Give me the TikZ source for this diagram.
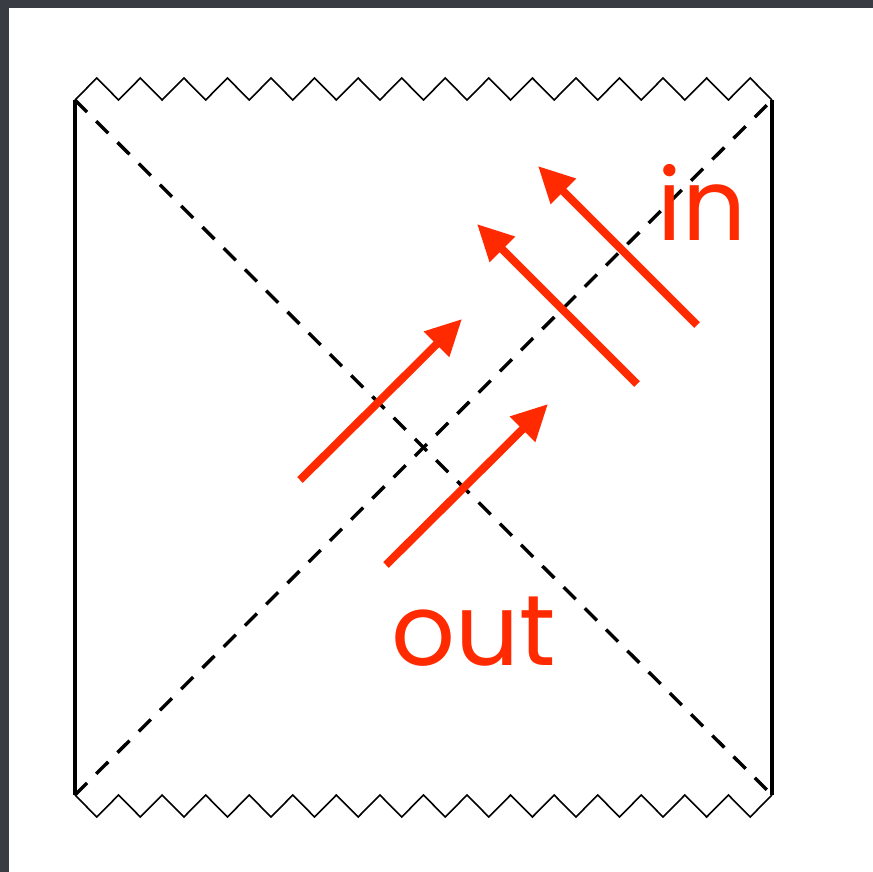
\documentclass[tikz,border=0pt]{standalone}
\usepackage{fontspec}
\newfontfamily\labelfont{Poppins}
\usetikzlibrary{arrows.meta}
\definecolor{bgdark}{HTML}{3A3C44}
\definecolor{arrred}{RGB}{255,42,0}
\begin{document}
\begin{tikzpicture}[x=1pt,y=-1pt,
  edge/.style={line width=3.6pt,black},
  jag/.style={line width=1.6pt,black,line join=miter},
  horizon/.style={line width=3.4pt,black,dash pattern=on 17pt off 13pt},
  flow/.style={line width=8pt,arrred,-{Triangle[length=36pt,width=34pt]}},
  lbl/.style={text=arrred,font=\labelfont\fontsize{100}{100}\selectfont,inner sep=0pt,anchor=base}]
\useasboundingbox (0,0) rectangle (873,872);
\fill[bgdark] (0,0) rectangle (873,872);
\fill[white] (9,8) rectangle (873,872);
\coordinate (tl) at (75,100);
\coordinate (tr) at (772,100);
\coordinate (bl) at (75,795);
\coordinate (br) at (772,795);
% singularities
\draw[jag] (tl) \foreach \k in {0,...,15} { -- ++(21.78,-22) -- ++(21.78,22) };
\draw[jag] (bl) \foreach \k in {0,...,15} { -- ++(21.78,22) -- ++(21.78,-22) };
% boundaries
\draw[edge] (tl) -- (bl);
\draw[edge] (tr) -- (br);
% horizons
\draw[horizon] (tl) -- (br);
\draw[horizon] (bl) -- (tr);
% arrows
\coordinate (o1s) at (300,480); \coordinate (o1e) at (462,319);
\coordinate (o2s) at (386,565); \coordinate (o2e) at (548,404);
\coordinate (i1s) at (637,384); \coordinate (i1e) at (477,224);
\coordinate (i2s) at (697,325); \coordinate (i2e) at (538,166);
\draw[flow] (o1s) -- (o1e);
\draw[flow] (o2s) -- (o2e);
\draw[flow] (i1s) -- (i1e);
\draw[flow] (i2s) -- (i2e);
\node[lbl] (in) at (702,240) {in};
\node[lbl] (out) at (474,665) {out};
\end{tikzpicture}
\end{document}
